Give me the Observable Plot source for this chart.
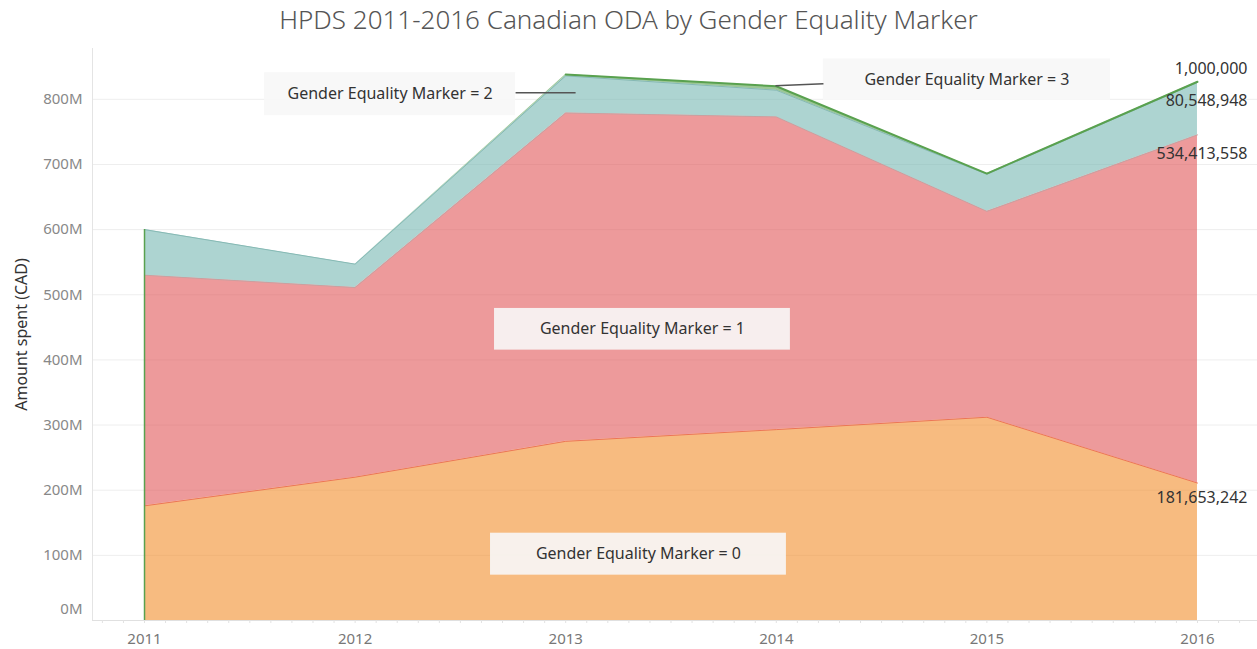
<!DOCTYPE html>
<html>
<head>
<meta charset="utf-8">
<script src="https://cdn.jsdelivr.net/npm/d3@7"></script>
<script src="https://cdn.jsdelivr.net/npm/@observablehq/plot@0.6"></script>
<style>
  html, body { margin: 0; padding: 0; background: #fff; }
  body { width: 1257px; height: 649px; overflow: hidden; font-family: "Noto Sans", sans-serif; }
  #title { height: 45px; line-height: 38px; text-align: center; font-size: 26px; color: #555; font-weight: 300; padding-left: 0; }
  #chart svg { display: block; }
</style>
</head>
<body>
<div id="title">HPDS 2011-2016 Canadian ODA by Gender Equality Marker</div>
<div id="chart"></div>
<script>
// ---- data ----
const years = [2011, 2012, 2013, 2014, 2015, 2016];
const categories = ["Gender Equality Marker = 0", "Gender Equality Marker = 1", "Gender Equality Marker = 2", "Gender Equality Marker = 3"];
const gem0 = [176e6, 220e6, 275e6, 293e6, 312e6, 211e6];
const gem1 = [354e6, 291e6, 504e6, 480e6, 316e6, 534.4e6];
const gem2 = [70e6, 36e6, 57e6, 41e6, 57e6, 80.5e6];
const gem3 = [0, 0, 2e6, 6e6, 1e6, 1e6];
const endLabels = ["181,653,242", "534,413,558", "80,548,948", "1,000,000"];
const yTicks = [0, 100e6, 200e6, 300e6, 400e6, 500e6, 600e6, 700e6, 800e6];

const colors = ["#f28e2b", "#e15759", "#76b7b2", "#59a14f"];
const lineColors = ["#ec7557", "#c9a0a0", "#86b9b4", "#59a14f"];
const series = [gem0, gem1, gem2, gem3];

const rows = [];
categories.forEach((c, i) => years.forEach((yr, j) => rows.push({year: yr, cat: c, value: series[i][j]})));

// stacked tops (derived from the series)
const tops = series.map((s, i) => years.map((yr, j) => series.slice(0, i + 1).reduce((a, b) => a + b[j], 0)));
const lineRows = [];
categories.forEach((c, i) => years.forEach((yr, j) => {
  if (i === 3 && !(series[3][j] > 0)) return; // top band border only where that band exists
  lineRows.push({year: yr, cat: c, i, top: tops[i][j]});
}));
const last = years.length - 1;
const endRows = categories.map((c, i) => ({year: years[last], top: tops[i][last], label: endLabels[i], i}));
const total2011 = tops[3][0];

// annotation layout (in data space)
const ann = [
  {text: categories[2], x1: 2011.57, x2: 2012.762, y1: 775e6, y2: 841e6, lx1: 2012.762, lx2: 2013.047, ly1: 810e6, ly2: 810e6},
  {text: categories[3], x1: 2014.224, x2: 2015.587, y1: 798e6, y2: 862e6, lx1: 2014.224, lx2: 2013.996, ly1: 824e6, ly2: 821e6},
  {text: categories[1], x1: 2012.662, x2: 2014.067, y1: 415e6, y2: 479e6},
  {text: categories[0], x1: 2012.643, x2: 2014.048, y1: 69.6e6, y2: 134e6}
];
const leaders = ann.filter(a => a.lx1 !== undefined);

const font = "Noto Sans, sans-serif";
const minor = d3.range(2010.8, 2016.29, 0.1);
const endDy = [15, 19, 18, -13];

const chart = Plot.plot({
  width: 1257,
  height: 604,
  marginLeft: 92,
  marginRight: 0,
  marginTop: 3,
  marginBottom: 29,
  style: {fontFamily: font, fontSize: "14px", background: "#fff"},
  x: {domain: [2010.753, 2016.285]},
  y: {domain: [0, 878e6]},
  color: {domain: categories, range: colors},
  marks: [
    Plot.ruleY(yTicks.slice(1), {stroke: "#eeeeee", strokeWidth: 1}),
    Plot.ruleX([2010.753], {stroke: "#e4e4e4"}),
    Plot.areaY(rows, {x: "year", y: "value", z: "cat", fill: "cat", fillOpacity: 0.6, order: categories}),
    Plot.lineY(lineRows, {x: "year", y: "top", z: "cat", stroke: d => lineColors[d.i], strokeWidth: d => d.i === 3 ? 2 : 1}),
    Plot.ruleX([years[0]], {y1: 0, y2: total2011, stroke: "#59a14f", strokeWidth: 1.5}),
    Plot.ruleY([0], {stroke: "#e0e0e0"}),
    Plot.axisX(minor, {tickSize: 3, tickFormat: () => "", stroke: "#e2e2e2", tickPadding: 0}),
    Plot.axisX(years, {tickSize: 0, tickFormat: "d", tickPadding: 13, fill: "#777", fontSize: 15, label: null}),
    Plot.axisY(yTicks.slice(1), {tickSize: 0, tickPadding: 10, tickFormat: d => d / 1e6 + "M", fill: "#888", fontSize: 15,
      label: "Amount spent (CAD)", labelAnchor: "center", labelArrow: "none", labelOffset: 77}),
    Plot.axisY([0], {tickSize: 0, tickPadding: 10, tickFormat: d => d / 1e6 + "M", fill: "#888", fontSize: 15, dy: -11, label: null}),
    // annotations
    Plot.rect(ann, {x1: "x1", x2: "x2", y1: "y1", y2: "y2", fill: "#f7f7f7", fillOpacity: 0.9}),
    Plot.text(ann, {x: d => (d.x1 + d.x2) / 2, y: d => (d.y1 + d.y2) / 2, text: "text", fill: "#333", fontSize: 16}),
    Plot.link(leaders, {x1: "lx1", x2: "lx2", y1: "ly1", y2: "ly2", stroke: "#555", strokeWidth: 1.5}),
    // end labels
    ...endRows.map(r => Plot.text([r], {x: "year", y: "top", text: "label", textAnchor: "end", dx: 50, dy: endDy[r.i], fill: "#333", fontSize: 16}))
  ]
});
document.getElementById("chart").appendChild(chart);
// axis title styling
d3.select(chart).selectAll("g[aria-label='y-axis label'] text").attr("fill", "#333").style("font-size", "16px");
</script>
</body>
</html>
